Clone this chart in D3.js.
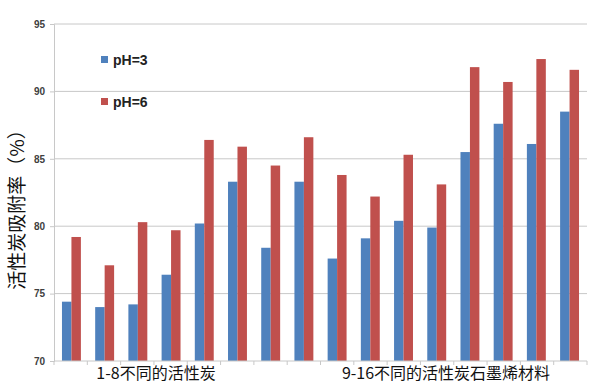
<!DOCTYPE html>
<html>
<head>
<meta charset="utf-8">
<script src="https://cdn.jsdelivr.net/npm/d3@7"></script>
<style>
body { margin: 0; background: #fff; }
</style>
</head>
<body>
<svg width="600" height="384"></svg>
<script>
const width = 600
const height = 384
const marginLeft = 54
const marginRight = 13
const marginTop = 24
const marginBottom = 23

const samples = d3.range(1, 17)
const series = ["pH=3", "pH=6"]
const ph3 = [74.4, 74.0, 74.2, 76.4, 80.2, 83.3, 78.4, 83.3, 77.6, 79.1, 80.4, 79.9, 85.5, 87.6, 86.1, 88.5]
const ph6 = [79.2, 77.1, 80.3, 79.7, 86.4, 85.9, 84.5, 86.6, 83.8, 82.2, 85.3, 83.1, 91.8, 90.7, 92.4, 91.6]
const yTicks = [70, 75, 80, 85, 90, 95]
const groupLabels = ["1-8不同的活性炭", "9-16不同的活性炭石墨烯材料"]
const yTitle = "活性炭吸附率（%）"
const colors = ["#4f81bd", "#c0504d"]

const svg = d3.select("svg")

var x0 = d3.scaleBand()
	.domain(samples)
	.range([marginLeft, width - marginRight])
	.paddingInner(0.43)
	.paddingOuter(0.24)

var x1 = d3.scaleBand()
	.domain(series)
	.range([0, x0.bandwidth()])

var y = d3.scaleLinear()
	.domain([70, 95])
	.range([height - marginBottom, marginTop])

// gridlines
svg.append("g")
	.selectAll("line")
	.data(yTicks.slice(1))
	.join("line")
	.attr("x1", marginLeft)
	.attr("x2", width - marginRight)
	.attr("y1", d => y(d))
	.attr("y2", d => y(d))
	.attr("stroke", "#c8c8c8")

// y axis
var yAxis = svg.append("g")
	.attr("transform", "translate(" + marginLeft + ",0)")
	.call(d3.axisLeft(y).tickValues(yTicks).tickSize(4).tickPadding(5))
yAxis.select(".domain").attr("stroke", "#c8c8c8")
yAxis.selectAll(".tick line").attr("stroke", "#c8c8c8")
yAxis.selectAll("text")
	.attr("fill", "#404040")
	.style("font-family", "'Liberation Sans', Arial, sans-serif")
	.style("font-weight", "bold")
	.style("font-size", "10px")

// bars
var rows = samples.map((s, i) => ({sample: s, values: [ph3[i], ph6[i]]}))
svg.append("g")
	.selectAll("g")
	.data(rows)
	.join("g")
	.attr("transform", d => "translate(" + x0(d.sample) + ",0)")
	.selectAll("rect")
	.data(d => d.values.map((v, j) => ({key: series[j], value: v, j: j})))
	.join("rect")
	.attr("x", d => x1(d.key))
	.attr("width", x1.bandwidth())
	.attr("y", d => y(d.value))
	.attr("height", d => y(70) - y(d.value))
	.attr("fill", d => colors[d.j])

// x axis line and ticks at group boundaries
var step = x0.step()
svg.append("line")
	.attr("x1", marginLeft).attr("x2", width - marginRight)
	.attr("y1", y(70)).attr("y2", y(70))
	.attr("stroke", "#c8c8c8")
svg.append("g")
	.selectAll("line")
	.data(d3.range(0, 17))
	.join("line")
	.attr("x1", i => marginLeft + i * (width - marginRight - marginLeft) / 16)
	.attr("x2", i => marginLeft + i * (width - marginRight - marginLeft) / 16)
	.attr("y1", y(70))
	.attr("y2", y(70) + 4)
	.attr("stroke", "#c8c8c8")

// group labels
var labelX = [156, 446]
svg.append("g")
	.selectAll("text")
	.data(groupLabels)
	.join("text")
	.attr("x", (d, i) => labelX[i])
	.attr("y", 379)
	.attr("text-anchor", "middle")
	.style("font-family", "'Noto Sans CJK SC', sans-serif")
	.style("font-size", "16px")
	.attr("fill", "#111")
	.text(d => d)

// y title
svg.append("text")
	.attr("transform", "translate(24,205) rotate(-90)")
	.attr("text-anchor", "middle")
	.style("font-family", "'Noto Sans CJK SC', sans-serif")
	.style("font-size", "19px")
	.attr("fill", "#111")
	.text(yTitle)

// legend
var legend = svg.append("g")
	.selectAll("g")
	.data(series)
	.join("g")
	.attr("transform", (d, i) => "translate(101," + (56 + i * 42) + ")")
legend.append("rect")
	.attr("width", 7).attr("height", 7)
	.attr("fill", (d, i) => colors[i])
legend.append("text")
	.attr("x", 12)
	.attr("y", 9)
	.style("font-family", "'Liberation Sans', Arial, sans-serif")
	.style("font-weight", "bold")
	.style("font-size", "14px")
	.attr("fill", "#222")
	.text(d => d)
</script>
</body>
</html>
